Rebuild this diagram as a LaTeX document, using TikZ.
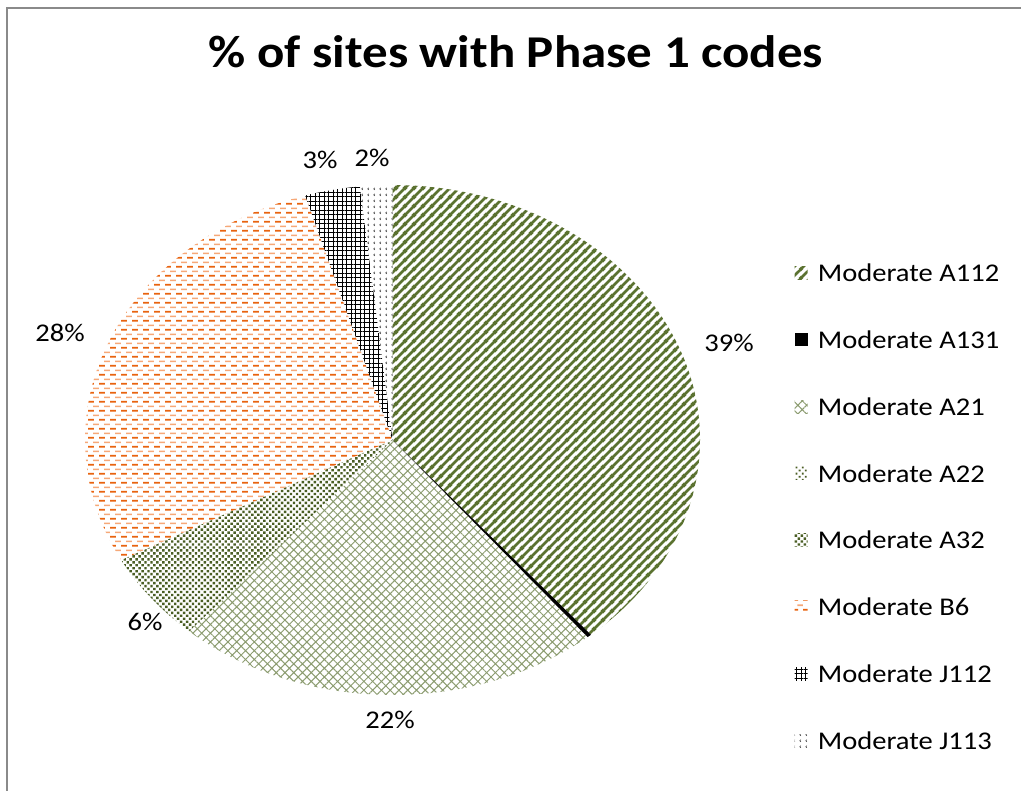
\documentclass[tikz,border=0pt]{standalone}
\usepackage{fontspec}
\setmainfont{Carlito}[FakeStretch=1.12]
\usetikzlibrary{patterns.meta,positioning}

\definecolor{olivestripe}{HTML}{5B7230}
\definecolor{olivehatch}{HTML}{8C9C70}
\definecolor{olivedots}{HTML}{4A5E24}
\definecolor{orangedark}{HTML}{E8630F}
\definecolor{orangelight}{HTML}{F6A878}
\definecolor{framegray}{HTML}{8A8A8A}

% thick diagonal stripes on a square tile
\tikzdeclarepattern{
  name=stripes,
  type=uncolored,
  bounding box={(0,0) and (9pt,9pt)},
  tile size={(9pt,9pt)},
  code={
    \draw[line width=2.8pt] (-2pt,-2pt) -- (11pt,11pt);
    \draw[line width=2.8pt] (-2pt,7pt) -- (2pt,11pt);
    \draw[line width=2.8pt] (7pt,-2pt) -- (11pt,2pt);
  }
}
% two rows of short dashes, dark and light orange
\tikzdeclarepattern{
  name=dashrows,
  type=colored,
  bounding box={(0,0) and (11pt,9.4pt)},
  tile size={(11pt,9.4pt)},
  code={
    \draw[orangedark, line width=1.7pt] (0,2.35pt) -- (6.5pt,2.35pt);
    \draw[orangelight, line width=1.7pt] (5.5pt,7.05pt) -- (11pt,7.05pt);
  }
}
\tikzdeclarepattern{
  name=chevrons,
  type=uncolored,
  bounding box={(0,0) and (6pt,6pt)},
  tile size={(6pt,6pt)},
  code={
    \draw[line width=.7pt] (3.2pt,1.3pt) -- (2pt,2.5pt) -- (3.2pt,3.7pt);
  }
}

\tikzset{
  a112slice/.style={pattern=stripes, pattern color=olivestripe},
  a131slice/.style={fill=black},
  a21slice/.style={pattern={Hatch[angle=45,distance=6.2pt,line width=1pt]}, pattern color=olivehatch},
  a32slice/.style={pattern={Dots[angle=45,distance=4.2pt,radius=1.7pt]}, pattern color=olivedots},
  b6slice/.style={pattern=dashrows},
  j112slice/.style={pattern={Hatch[angle=0,distance=4.5pt,line width=1pt]}, pattern color=black},
  j113slice/.style={pattern=chevrons, pattern color=black!70},
  pct/.style={font=\fontsize{25.5}{30}\selectfont, inner sep=0pt},
  keybox/.style={minimum size=13pt, inner sep=0pt},
  keytext/.style={font=\fontsize{25.5}{30}\selectfont, inner sep=0pt},
  charttitle/.style={font=\fontsize{45.5}{54}\selectfont\bfseries, inner sep=0pt},
}

\begin{document}
\begin{tikzpicture}[x=1pt, y=-1pt]
\path[use as bounding box, fill=white] (0,0) rectangle (1021,791);
\draw[framegray, line width=2pt] (7,791) -- (7,8) -- (1021,8);

\node[charttitle] (title) at (516,52) {\% of sites with Phase 1 codes};

% pie, angles clockwise from the top
\coordinate (pie) at (392.5,440);
\path[a112slice] (pie) -- ++(-90:307.5 and 255) arc[start angle=-90, end angle=49.8, x radius=307.5, y radius=255] -- cycle;
\path[a131slice] (pie) -- ++(49.8:307.5 and 255) arc[start angle=49.8, end angle=50.6, x radius=307.5, y radius=255] -- cycle;
\path[a21slice] (pie) -- ++(50.6:307.5 and 255) arc[start angle=50.6, end angle=131.4, x radius=307.5, y radius=255] -- cycle;
\path[a32slice] (pie) -- ++(131.4:307.5 and 255) arc[start angle=131.4, end angle=151.9, x radius=307.5, y radius=255] -- cycle;
\path[b6slice] (pie) -- ++(151.9:307.5 and 255) arc[start angle=151.9, end angle=253.5, x radius=307.5, y radius=255] -- cycle;
\path[j112slice] (pie) -- ++(253.5:307.5 and 255) arc[start angle=253.5, end angle=263.9, x radius=307.5, y radius=255] -- cycle;
\path[j113slice] (pie) -- ++(263.9:307.5 and 255) arc[start angle=263.9, end angle=270, x radius=307.5, y radius=255] -- cycle;

\node[pct] (p39) at (729,343) {39\%};
\node[pct] (p22) at (390,720) {22\%};
\node[pct] (p6) at (145,622) {6\%};
\node[pct] (p28) at (60,333) {28\%};
\node[pct] (p3) at (320,160) {3\%};
\node[pct] (p2) at (372,158) {2\%};

% legend
\node[keybox, a112slice] (ka112) at (801,273) {};
\node[keytext, right=10pt of ka112] (ta112) {Moderate A112};
\node[keybox, a131slice, below=53.4pt of ka112] (ka131) {};
\node[keytext, right=10pt of ka131] (ta131) {Moderate A131};
\node[keybox, a21slice, below=53.4pt of ka131] (ka21) {};
\node[keytext, right=10pt of ka21] (ta21) {Moderate A21};
\node[keybox, pattern={Dots[angle=45,distance=4.4pt,radius=1.3pt]}, pattern color=olivedots, below=53.4pt of ka21] (ka22) {};
\node[keytext, right=10pt of ka22] (ta22) {Moderate A22};
\node[keybox, a32slice, below=53.4pt of ka22] (ka32) {};
\node[keytext, right=10pt of ka32] (ta32) {Moderate A32};
\node[keybox, b6slice, below=53.4pt of ka32] (kb6) {};
\node[keytext, right=10pt of kb6] (tb6) {Moderate B6};
\node[keybox, j112slice, below=53.4pt of kb6] (kj112) {};
\node[keytext, right=10pt of kj112] (tj112) {Moderate J112};
\node[keybox, j113slice, below=53.4pt of kj112] (kj113) {};
\node[keytext, right=10pt of kj113] (tj113) {Moderate J113};
\end{tikzpicture}
\end{document}
